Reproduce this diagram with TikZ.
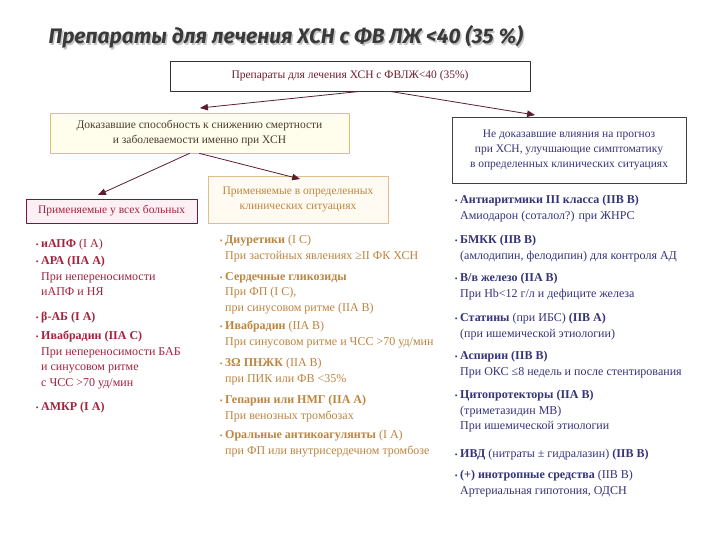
\documentclass[tikz,border=0pt]{standalone}
\usepackage{fontspec}
\setmainfont{Liberation Serif}
\newfontfamily\titlefont{Fira Sans}
\usepackage{tikz}
\usepackage{xcolor}
\usetikzlibrary{arrows}
\usetikzlibrary{arrows.meta,calc}
\definecolor{ttlgray}{HTML}{3A3A3A}
\definecolor{topred}{HTML}{6E1E2C}
\definecolor{arrcol}{HTML}{5A1E32}
\definecolor{docline}{HTML}{D9C46A}
\definecolor{docfill}{HTML}{FFFDEB}
\definecolor{doctext}{HTML}{4A3A32}
\definecolor{bluetext}{HTML}{34347A}
\definecolor{allline}{HTML}{7A1444}
\definecolor{allfill}{HTML}{FCF0F5}
\definecolor{redtext}{HTML}{A3223E}
\definecolor{specline}{HTML}{DDBE8C}
\definecolor{specfill}{HTML}{FFFBF2}
\definecolor{brtext}{HTML}{BC8540}
\newcommand{\bul}{\llap{{\footnotesize\textbullet}\hspace{2.5pt}}}

\begin{document}
\begin{tikzpicture}[line cap=round,line join=round,>=triangle 45,x=1pt,y=-1pt,
    box/.style={draw,line width=0.8pt,inner sep=2pt,align=center,font=\fontsize{11.5}{15}\selectfont},
    item/.style={anchor=north west,align=left,inner sep=0pt,font=\fontsize{12}{15.5}\selectfont,execute at begin node=\strut},
    arr/.style={->,line width=0.8pt,color=arrcol}]
                \useasboundingbox [fill=white] (0,0) rectangle (720,540);
                \node[anchor=west,text=gray!45,font=\titlefont\bfseries\itshape\fontsize{21}{25}\selectfont] (ttlshadow) at (46.5,38.5) {Препараты для лечения ХСН с ФВ ЛЖ <40 (35 \%)};
                \node[anchor=west,text=ttlgray,font=\titlefont\bfseries\itshape\fontsize{21}{25}\selectfont] (ttl) at (45,37) {Препараты для лечения ХСН с ФВ ЛЖ <40 (35 \%)};
                \node[box,draw=black!80,fill=white,text=topred,minimum width=360pt,minimum height=30pt] (top) at (350,76) {Препараты для лечения ХСН с ФВЛЖ<40 (35\%)};
                \node[box,draw=docline,fill=docfill,text=doctext,minimum width=299pt,minimum height=40pt] (doc) at (199.5,133) {Доказавшие способность к снижению смертности\\и заболеваемости именно при ХСН};
                \node[box,draw=black!75,fill=white,text=bluetext,minimum width=234pt,minimum height=66pt] (nodoc) at (569,150) {Не доказавшие влияния на прогноз\\при ХСН, улучшающие симптоматику\\в определенных клинических ситуациях};
                \node[box,draw=allline,fill=allfill,text=redtext,minimum width=171pt,minimum height=24pt] (all) at (111.5,211) {Применяемые у всех больных};
                \node[box,draw=specline,fill=specfill,text=brtext,minimum width=180pt,minimum height=47pt] (spec) at (298,199.5) {Применяемые в определенных\\клинических ситуациях};
                \coordinate (pdoc) at (200,108);
                \coordinate (pno) at (535,115);
                \coordinate (pall) at (98,195);
                \coordinate (pspec) at (300,179);
                \draw[arr] ([xshift=10pt]top.south) -- (pdoc);
                \draw[arr] ([xshift=40pt]top.south) -- (pno);
                \draw[arr] ([xshift=-10pt]doc.south) -- (pall);
                \draw[arr] (doc.south) -- (pspec);
                \begin{scope}[every node/.append style={item,text=redtext}]
                    \node (l1) at (41,236) {\bul\textbf{иАПФ} (I A)};
                    \node (l2) at (41,256) {\bul\textbf{АРА (IIA A)}\\При непереносимости\\иАПФ и НЯ};
                    \node (l3) at (41,309) {\bul\textbf{β-АБ (I A)}};
                    \node (l4) at (41,331) {\bul\textbf{Ивабрадин (IIA C)}\\При непереносимости БАБ\\и синусовом ритме\\с ЧСС >70 уд/мин};
                    \node (l5) at (41,399) {\bul\textbf{АМКР (I A)}};
                \end{scope}
                \begin{scope}[every node/.append style={item,text=brtext}]
                    \node (m1) at (225,235) {\bul\textbf{Диуретики} (I C)\\При застойных явлениях ≥II ФК ХСН};
                    \node (m2) at (225,272) {\bul\textbf{Сердечные гликозиды}\\При ФП (I C),\\при синусовом ритме (IIA B)};
                    \node (m3) at (225,321) {\bul\textbf{Ивабрадин} (IIA B)\\При синусовом ритме и ЧСС >70 уд/мин};
                    \node (m4) at (225,358) {\bul\textbf{3Ω ПНЖК} (IIA B)\\при ПИК или ФВ <35\%};
                    \node (m5) at (225,395) {\bul\textbf{Гепарин или НМГ (IIA A)}\\При венозных тромбозах};
                    \node (m6) at (225,430) {\bul\textbf{Оральные антикоагулянты} (I A)\\при ФП или внутрисердечном тромбозе};
                \end{scope}
                \begin{scope}[every node/.append style={item,text=bluetext}]
                    \node (r1) at (460,195) {\bul\textbf{Антиаритмики III класса (IIB B)}\\Амиодарон (соталол?) при ЖНРС};
                    \node (r2) at (460,235) {\bul\textbf{БМКК (IIB B)}\\(амлодипин, фелодипин) для контроля АД};
                    \node (r3) at (460,273) {\bul\textbf{В/в железо (IIA B)}\\При Hb<12 г/л и дефиците железа};
                    \node (r4) at (460,313) {\bul\textbf{Статины} (при ИБС) \textbf{(IIB A)}\\(при ишемической этиологии)};
                    \node (r5) at (460,351) {\bul\textbf{Аспирин (IIB B)}\\При ОКС ≤8 недель и после стентирования};
                    \node (r6) at (460,390) {\bul\textbf{Цитопротекторы (IIA B)}\\(триметазидин МВ)\\При ишемической этиологии};
                    \node (r7) at (460,446) {\bul\textbf{ИВД} (нитраты ± гидралазин) \textbf{(IIB B)}};
                    \node (r8) at (460,470) {\bul\textbf{(+) инотропные средства} (IIB B)\\Артериальная гипотония, ОДСН};
                \end{scope}
            \end{tikzpicture}
\end{document}
